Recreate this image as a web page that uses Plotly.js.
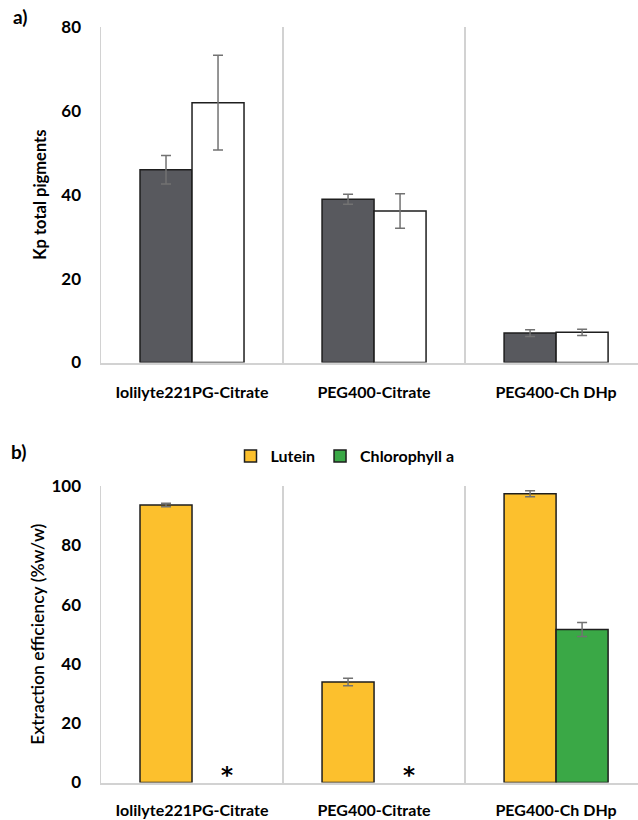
<!DOCTYPE html>
<html>
<head>
<meta charset="utf-8">
<script src="https://cdn.plot.ly/plotly-3.0.1.min.js"></script>
<style>html,body{margin:0;padding:0;background:#fff;}#chart{width:638px;height:820px;}</style>
</head>
<body>
<div id="chart"></div>
<script>
// ---- data ----
var categories = ["Iolilyte221PG-Citrate", "PEG400-Citrate", "PEG400-Ch DHp"];

// panel a) Kp total pigments
var kpDark = [45.9, 38.9, 7.0];
var kpDarkErr = [3.4, 1.2, 0.8];
var kpWhite = [61.9, 36.1, 7.2];
var kpWhiteErr = [11.3, 4.1, 0.75];

// panel b) Extraction efficiency (%w/w)
var lutein = [93.6, 33.9, 97.4];
var luteinErr = [0.6, 1.3, 1.0];
var chlorophyll = [null, null, 51.6];
var chlorophyllErr = [0, 0, 2.4];

var yTicksA = [0, 20, 40, 60, 80];
var yTicksB = [0, 20, 40, 60, 80, 100];

// ---- styles ----
var FONT = "Lato, Open Sans, DejaVu Sans, sans-serif";
var outline = {color: "#1e1e1e", width: 1.5};
function err(arr) {
  return {type: "data", array: arr, visible: true, color: "#727272", thickness: 1.5, width: 5};
}

var traces = [
  {type: "bar", x: categories, y: kpDark, name: "Series 1", xaxis: "x", yaxis: "y",
   marker: {color: "#58595e", line: outline}, error_y: err(kpDarkErr), showlegend: false},
  {type: "bar", x: categories, y: kpWhite, name: "Series 2", xaxis: "x", yaxis: "y",
   marker: {color: "#ffffff", line: outline}, error_y: err(kpWhiteErr), showlegend: false},
  {type: "bar", x: categories, y: lutein, name: "Lutein", xaxis: "x2", yaxis: "y2",
   marker: {color: "#fcc02d", line: outline}, error_y: err(luteinErr)},
  {type: "bar", x: categories, y: chlorophyll, name: "Chlorophyll a", xaxis: "x2", yaxis: "y2",
   marker: {color: "#3aa846", line: outline}, error_y: err(chlorophyllErr)}
];

var annotations = [
  {text: "a)", xref: "paper", yref: "paper", x: 11 / 638, y: 1 - 16 / 820, xanchor: "left", yanchor: "middle",
   showarrow: false, font: {family: FONT, size: 19, weight: "bold", color: "#000"}},
  {text: "b)", xref: "paper", yref: "paper", x: 9 / 638, y: 1 - 451 / 820, xanchor: "left", yanchor: "middle",
   showarrow: false, font: {family: FONT, size: 19, weight: "bold", color: "#000"}}
];
chlorophyll.forEach(function (v, i) {
  if (v === null) {
    annotations.push({text: "*", xref: "x2", yref: "y2", x: categories[i], y: 0, xshift: 35, yshift: -7,
      xanchor: "center", yanchor: "bottom", showarrow: false,
      font: {family: "DejaVu Sans, sans-serif", size: 23, weight: "bold", color: "#000"}});
  }
});

var gridGray = "#d2d2d2";
function xAxis(anchor, standoff) {
  return {anchor: anchor, domain: [101 / 638, 1], type: "category", range: [-0.5, 2.45],
    tickson: "boundaries", showgrid: true, gridcolor: gridGray, gridwidth: 1.5,
    showline: true, linecolor: gridGray, linewidth: 2, ticks: "", zeroline: false,
    ticklabelstandoff: standoff, automargin: false,
    tickfont: {family: FONT, size: 16, weight: "bold", color: "#000"}};
}
function yAxis(anchor, domain, range, ticks) {
  return {anchor: anchor, domain: domain, range: range, tickvals: ticks, showgrid: false,
    zeroline: false, showline: true, linecolor: gridGray, linewidth: 1.5, ticks: "",
    ticklabelstandoff: 15, automargin: false,
    tickfont: {family: FONT, size: 17, weight: "bold", color: "#000"}};
}

var ya = yAxis("x", [1 - 362.5 / 820, 1 - 26.7 / 820], [0, 80], yTicksA);
ya.title = {text: "Kp total pigments", standoff: 10, font: {family: FONT, size: 16.5, weight: "bold", color: "#000"}};
var yb = yAxis("x2", [1 - 782.5 / 820, 1 - 486 / 820], [0, 100], yTicksB);
yb.title = {text: "Extraction efficiency (%w/w)", standoff: 2, font: {family: FONT, size: 17.5, weight: 600, color: "#000"}};

var layout = {
  width: 638, height: 820,
  margin: {l: 0, r: 0, t: 0, b: 0},
  paper_bgcolor: "#ffffff", plot_bgcolor: "#ffffff",
  font: {family: FONT, color: "#000"},
  barmode: "group", bargap: 0.4286, bargroupgap: 0,
  xaxis: xAxis("y", 14), yaxis: ya,
  xaxis2: xAxis("y2", 12), yaxis2: yb,
  showlegend: true,
  legend: {orientation: "h", x: 345 / 638, xanchor: "center", y: 1 - 456 / 820, yanchor: "middle",
    font: {family: FONT, size: 16, weight: "bold", color: "#000"}, itemwidth: 30, bgcolor: "rgba(0,0,0,0)"},
  annotations: annotations
};

Plotly.newPlot("chart", traces, layout, {displayModeBar: false, staticPlot: true});
</script>
</body>
</html>
